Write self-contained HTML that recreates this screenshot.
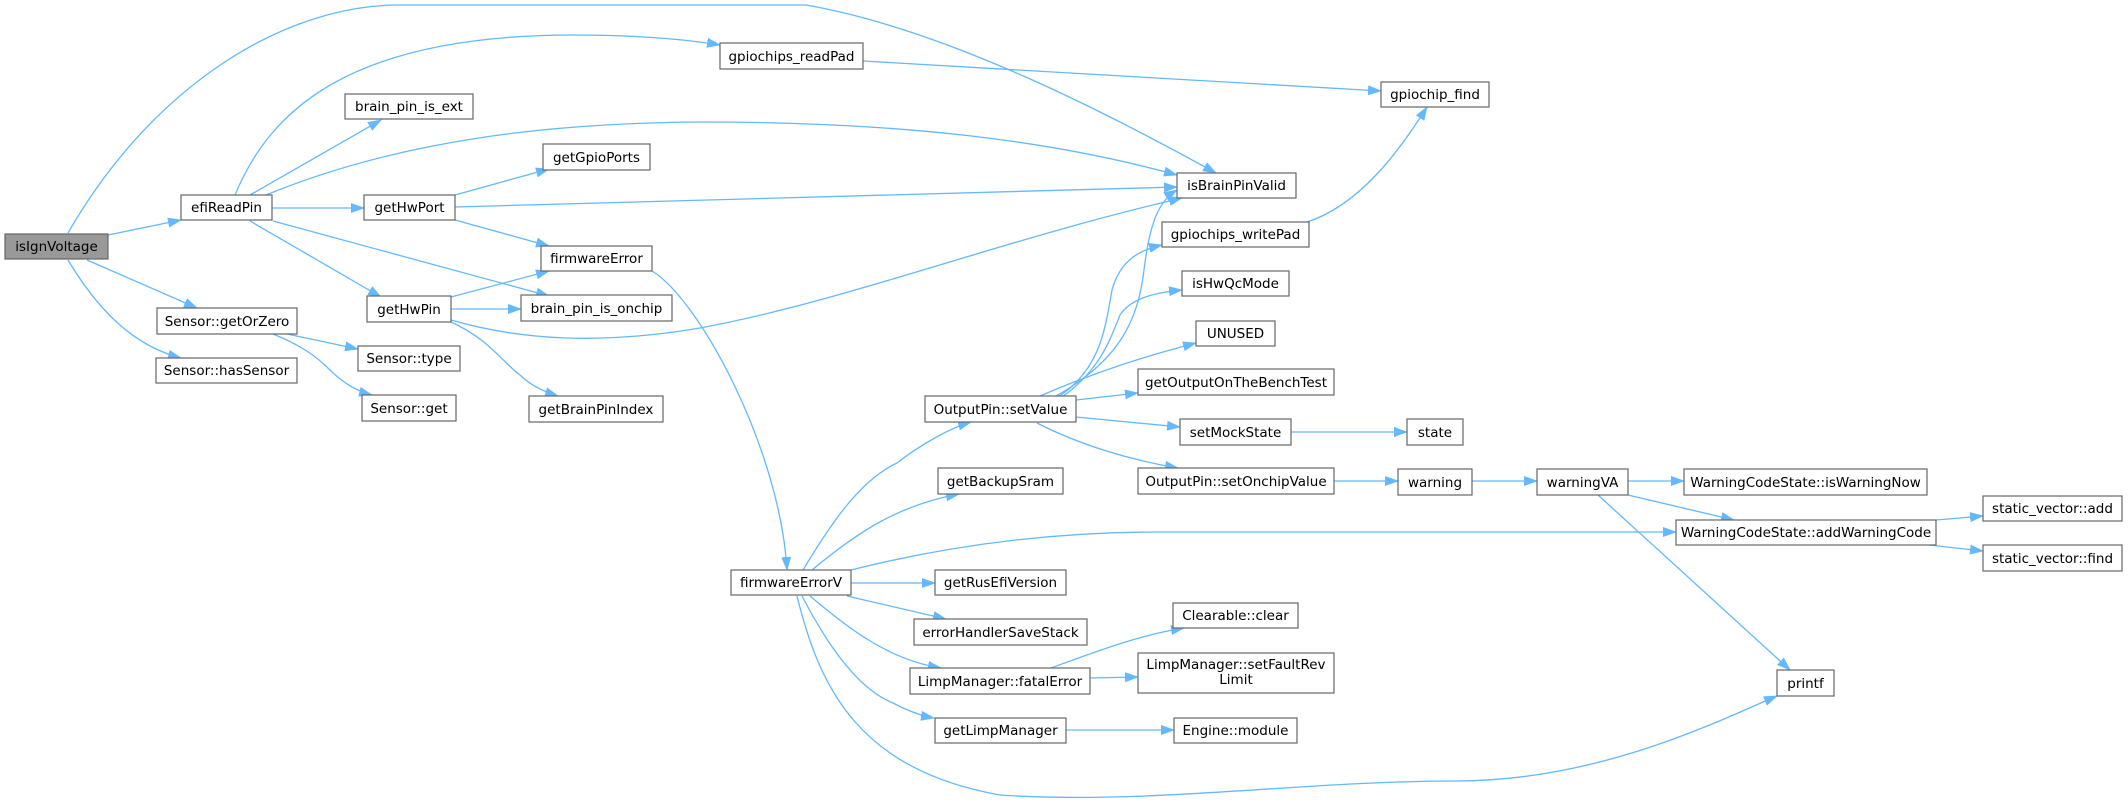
<!DOCTYPE html>
<html><head><meta charset="utf-8"><style>
html,body{margin:0;padding:0;background:#fff}
svg{display:block}
text{font-family:"DejaVu Sans","Liberation Sans",sans-serif;font-size:13.5px;fill:#000}
.n{fill:#fff;stroke:#666;stroke-width:1.2}
.e{fill:none;stroke:#63b8ff;stroke-width:1.3}
</style></head><body>
<svg width="2128" height="802" viewBox="0 0 2128 802" xmlns="http://www.w3.org/2000/svg">
<defs><marker id="a" markerWidth="14" markerHeight="10" refX="13" refY="5" orient="auto" markerUnits="userSpaceOnUse"><path d="M0,0 L14,5 L0,10 z" fill="#63b8ff"/></marker></defs>
<g class="e" marker-end="url(#a)">
<path d="M68,233 C150,90 280,5 400,5 L806,5 C950,30 1120,120 1216,173"/>
<path d="M235,195 C270,110 350,35 574,35 C640,35 690,40 720,45"/>
<path d="M250,195 L381,120"/>
<path d="M266,195 C400,140 550,123 700,122 C900,122 1050,140 1177,175"/>
<path d="M272,208 L364,208"/>
<path d="M250,221 L381,297"/>
<path d="M273,221 L549,296"/>
<path d="M108,235 L181,220"/>
<path d="M87,260 L197,308"/>
<path d="M68,260 C95,305 130,345 181,358"/>
<path d="M455,195 L549,169"/>
<path d="M455,207 L1177,187"/>
<path d="M455,220 L549,246"/>
<path d="M451,297 L549,271"/>
<path d="M451,309 L521,309"/>
<path d="M451,320 C520,340 600,345 700,328 C850,300 1000,240 1182,198"/>
<path d="M451,322 C490,340 500,360 520,375 C530,385 545,392 558,396"/>
<path d="M287,334 L358,349"/>
<path d="M273,334 C300,345 315,355 330,370 C345,385 360,392 372,395"/>
<path d="M652,271 C700,300 780,450 787,570"/>
<path d="M863,61 L1381,91"/>
<path d="M1307,222 C1360,205 1400,150 1427,107"/>
<path d="M1056,396 C1120,360 1138,320 1144,270 C1150,220 1160,200 1177,190"/>
<path d="M1058,397 C1100,370 1105,330 1112,290 C1120,260 1140,250 1162,245"/>
<path d="M1062,397 C1100,370 1110,340 1120,315 C1130,300 1150,293 1182,290"/>
<path d="M1040,396 C1100,370 1150,355 1196,343"/>
<path d="M1076,400 L1138,393"/>
<path d="M1076,417 L1180,427"/>
<path d="M1037,423 C1080,445 1130,460 1178,468"/>
<path d="M1291,432 L1407,432"/>
<path d="M1334,481 L1398,481"/>
<path d="M1472,481 L1537,481"/>
<path d="M1628,481 L1684,481"/>
<path d="M1628,495 L1734,520"/>
<path d="M1598,495 L1790,670"/>
<path d="M1936,520 L1983,516"/>
<path d="M1929,545 L1983,551"/>
<path d="M803,570 C830,525 860,480 897,463 C920,445 950,428 971,422"/>
<path d="M812,570 C860,530 900,505 959,494"/>
<path d="M851,570 C950,545 1050,532 1159,532 L1676,532"/>
<path d="M851,583 L935,583"/>
<path d="M847,596 L946,619"/>
<path d="M810,596 C850,630 890,660 941,668"/>
<path d="M802,596 C830,650 860,690 893,703 C910,712 922,716 934,718"/>
<path d="M797,596 C820,690 860,770 1000,795 C1150,805 1300,781 1456,781 C1600,781 1720,720 1777,696"/>
<path d="M1051,668 C1100,650 1140,635 1184,628"/>
<path d="M1090,678 L1138,677"/>
<path d="M1066,730 L1174,730"/>
</g>
<g>
<rect x="5" y="234" width="103" height="25" fill="#999" stroke="#666" stroke-width="1.2"/><text x="56.5" y="251" text-anchor="middle">isIgnVoltage</text>
<rect class="n" x="181" y="195" width="91" height="25"/><text x="226.5" y="212" text-anchor="middle">efiReadPin</text>
<rect class="n" x="345" y="94" width="128" height="25"/><text x="409" y="111" text-anchor="middle">brain_pin_is_ext</text>
<rect class="n" x="543" y="144" width="107" height="26"/><text x="596.5" y="162" text-anchor="middle">getGpioPorts</text>
<rect class="n" x="364" y="195" width="91" height="25"/><text x="409.5" y="212" text-anchor="middle">getHwPort</text>
<rect class="n" x="541" y="246" width="111" height="25"/><text x="596.5" y="263" text-anchor="middle">firmwareError</text>
<rect class="n" x="367" y="296" width="84" height="26"/><text x="409" y="314" text-anchor="middle">getHwPin</text>
<rect class="n" x="521" y="295" width="151" height="26"/><text x="596.5" y="313" text-anchor="middle">brain_pin_is_onchip</text>
<rect class="n" x="157" y="308" width="140" height="26"/><text x="227" y="326" text-anchor="middle">Sensor::getOrZero</text>
<rect class="n" x="156" y="358" width="141" height="25"/><text x="226.5" y="375" text-anchor="middle">Sensor::hasSensor</text>
<rect class="n" x="358" y="346" width="102" height="25"/><text x="409" y="363" text-anchor="middle">Sensor::type</text>
<rect class="n" x="362" y="395" width="94" height="26"/><text x="409" y="413" text-anchor="middle">Sensor::get</text>
<rect class="n" x="529" y="396" width="134" height="26"/><text x="596" y="414" text-anchor="middle">getBrainPinIndex</text>
<rect class="n" x="720" y="43" width="143" height="26"/><text x="791.5" y="61" text-anchor="middle">gpiochips_readPad</text>
<rect class="n" x="1381" y="82" width="108" height="25"/><text x="1435" y="99" text-anchor="middle">gpiochip_find</text>
<rect class="n" x="1177" y="173" width="119" height="25"/><text x="1236.5" y="190" text-anchor="middle">isBrainPinValid</text>
<rect class="n" x="1162" y="222" width="147" height="25"/><text x="1235.5" y="239" text-anchor="middle">gpiochips_writePad</text>
<rect class="n" x="1182" y="271" width="107" height="25"/><text x="1235.5" y="288" text-anchor="middle">isHwQcMode</text>
<rect class="n" x="1196" y="321" width="79" height="25"/><text x="1235.5" y="338" text-anchor="middle">UNUSED</text>
<rect class="n" x="1138" y="369" width="196" height="26"/><text x="1236" y="387" text-anchor="middle">getOutputOnTheBenchTest</text>
<rect class="n" x="925" y="396" width="151" height="26"/><text x="1000.5" y="414" text-anchor="middle">OutputPin::setValue</text>
<rect class="n" x="1180" y="419" width="111" height="26"/><text x="1235.5" y="437" text-anchor="middle">setMockState</text>
<rect class="n" x="1407" y="419" width="56" height="26"/><text x="1435" y="437" text-anchor="middle">state</text>
<rect class="n" x="1138" y="468" width="196" height="26"/><text x="1236" y="486" text-anchor="middle">OutputPin::setOnchipValue</text>
<rect class="n" x="1398" y="469" width="74" height="26"/><text x="1435" y="487" text-anchor="middle">warning</text>
<rect class="n" x="1537" y="469" width="91" height="26"/><text x="1582.5" y="487" text-anchor="middle">warningVA</text>
<rect class="n" x="1684" y="469" width="243" height="26"/><text x="1805.5" y="487" text-anchor="middle">WarningCodeState::isWarningNow</text>
<rect class="n" x="1676" y="520" width="260" height="25"/><text x="1806" y="537" text-anchor="middle">WarningCodeState::addWarningCode</text>
<rect class="n" x="1983" y="496" width="139" height="25"/><text x="2052.5" y="513" text-anchor="middle">static_vector::add</text>
<rect class="n" x="1983" y="545" width="139" height="26"/><text x="2052.5" y="563" text-anchor="middle">static_vector::find</text>
<rect class="n" x="1777" y="670" width="57" height="26"/><text x="1805.5" y="688" text-anchor="middle">printf</text>
<rect class="n" x="938" y="468" width="125" height="26"/><text x="1000.5" y="486" text-anchor="middle">getBackupSram</text>
<rect class="n" x="731" y="570" width="120" height="25"/><text x="791" y="587" text-anchor="middle">firmwareErrorV</text>
<rect class="n" x="935" y="570" width="131" height="25"/><text x="1000.5" y="587" text-anchor="middle">getRusEfiVersion</text>
<rect class="n" x="914" y="619" width="173" height="26"/><text x="1000.5" y="637" text-anchor="middle">errorHandlerSaveStack</text>
<rect class="n" x="1173" y="603" width="125" height="25"/><text x="1235.5" y="620" text-anchor="middle">Clearable::clear</text>
<rect class="n" x="910" y="668" width="180" height="26"/><text x="1000" y="686" text-anchor="middle">LimpManager::fatalError</text>
<rect class="n" x="1138" y="653" width="196" height="40"/><text x="1236" y="669" text-anchor="middle">LimpManager::setFaultRev</text><text x="1236" y="684" text-anchor="middle">Limit</text>
<rect class="n" x="935" y="718" width="131" height="25"/><text x="1000.5" y="735" text-anchor="middle">getLimpManager</text>
<rect class="n" x="1174" y="718" width="123" height="25"/><text x="1235.5" y="735" text-anchor="middle">Engine::module</text>
</g>
</svg>
</body></html>
